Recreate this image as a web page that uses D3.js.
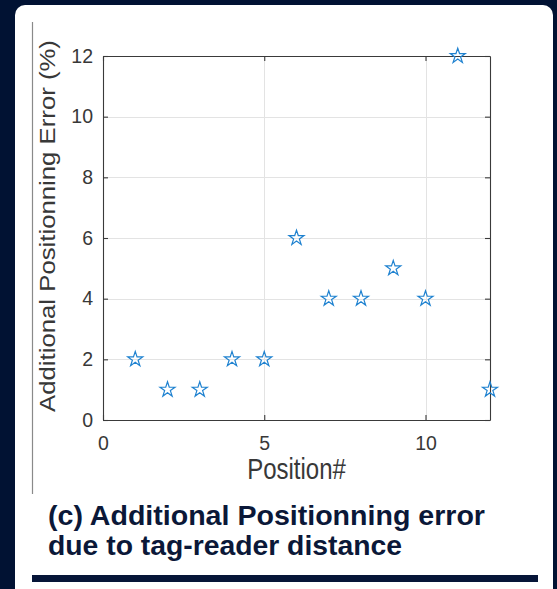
<!DOCTYPE html>
<html>
<head>
<meta charset="utf-8">
<script src="https://cdn.jsdelivr.net/npm/d3@7"></script>
<style>
  html, body { margin: 0; padding: 0; background: #011233; }
  svg { display: block; }
  text { font-family: "Liberation Sans", Arial, sans-serif; }
</style>
</head>
<body>
<svg id="chart" width="557" height="589"></svg>
<script>
// data
var positions = [1, 2, 3, 4, 5, 6, 7, 8, 9, 10, 11, 12];
var errors    = [2, 1, 1, 2, 2, 6, 4, 4, 5, 4, 12, 1];
var xTicks = [0, 5, 10];
var yTicks = [0, 2, 4, 6, 8, 10, 12];

var svg = d3.select('#chart');

// white slide panel
svg.append('rect')
  .attr('x', 15).attr('y', 5)
  .attr('width', 538).attr('height', 600)
  .attr('rx', 10)
  .style('fill', '#ffffff');

// thin vertical rule on the left
svg.append('line')
  .attr('x1', 32.5).attr('x2', 32.5)
  .attr('y1', 22).attr('y2', 494)
  .style('stroke', '#8a8a8a')
  .style('stroke-width', 1.2);

var pLeft = 103, pRight = 490, pTop = 56, pBottom = 420;

var x = d3.scaleLinear().domain([0, 12]).range([pLeft, pRight]);
var y = d3.scaleLinear().domain([0, 12]).range([pBottom, pTop]);

var plot = svg.append('g');

// grid
plot.selectAll('line.gx')
  .data(xTicks)
  .enter()
  .append('line')
  .classed('gx', true)
  .attr('x1', d => Math.round(x(d)) + 0.5)
  .attr('x2', d => Math.round(x(d)) + 0.5)
  .attr('y1', pTop).attr('y2', pBottom)
  .style('stroke', '#e3e3e3');

plot.selectAll('line.gy')
  .data(yTicks)
  .enter()
  .append('line')
  .classed('gy', true)
  .attr('x1', pLeft).attr('x2', pRight)
  .attr('y1', d => Math.round(y(d)) + 0.5)
  .attr('y2', d => Math.round(y(d)) + 0.5)
  .style('stroke', '#e3e3e3');

// axes, ticks pointing inward like matlab
var fmt = d3.format('d');
plot.append('g')
  .attr('transform', 'translate(0,' + pBottom + ')')
  .call(d3.axisBottom(x).tickValues(xTicks).tickFormat(fmt).tickSizeInner(-5).tickSizeOuter(0).tickPadding(16));
plot.append('g')
  .attr('transform', 'translate(0,' + pTop + ')')
  .call(d3.axisTop(x).tickValues(xTicks).tickFormat('').tickSizeInner(-5).tickSizeOuter(0));
plot.append('g')
  .attr('transform', 'translate(' + pLeft + ',0)')
  .call(d3.axisLeft(y).tickValues(yTicks).tickFormat(fmt).tickSizeInner(-5).tickSizeOuter(0).tickPadding(10));
plot.append('g')
  .attr('transform', 'translate(' + pRight + ',0)')
  .call(d3.axisRight(y).tickValues(yTicks).tickFormat('').tickSizeInner(-5).tickSizeOuter(0));

plot.selectAll('.domain, .tick line')
  .style('stroke', '#3a3a3a')
  .style('stroke-width', 1.1);

plot.selectAll('.tick text')
  .style('font-size', '19.5px')
  .style('fill', '#383838')
  .style('font-family', '"Liberation Sans", Arial, sans-serif');

// axis labels (the picture is a bit stretched vertically)
svg.append('text')
  .attr('transform', 'translate(' + x(6) + ',479) scale(1,1.2)')
  .attr('text-anchor', 'middle')
  .style('font-size', '24px')
  .style('fill', '#383838')
  .text('Position#');

svg.append('text')
  .attr('transform', 'translate(55,226) scale(1,1.17) rotate(-90)')
  .attr('text-anchor', 'middle')
  .style('font-size', '22px')
  .style('fill', '#383838')
  .text('Additional Positionning Error (%)');

// star markers
var star = d3.symbol().type(d3.symbolStar).size(70);
plot.selectAll('path.pt')
  .data(positions)
  .enter()
  .append('path')
  .classed('pt', true)
  .attr('transform', (d, i) => 'translate(' + x(d) + ',' + y(errors[i]) + ')')
  .attr('d', star)
  .style('fill', 'none')
  .style('stroke', '#1f82d0')
  .style('stroke-width', 1.2);

// caption
var caption = svg.append('g')
  .style('fill', '#0b1838')
  .style('font-weight', 'bold')
  .style('font-size', '27px');

caption.append('text')
  .attr('x', 48).attr('y', 525)
  .attr('textLength', 437)
  .attr('lengthAdjust', 'spacingAndGlyphs')
  .text('(c) Additional Positionning error');

caption.append('text')
  .attr('x', 48).attr('y', 555)
  .attr('textLength', 354)
  .attr('lengthAdjust', 'spacingAndGlyphs')
  .text('due to tag-reader distance');

// bottom bar
svg.append('rect')
  .attr('x', 32).attr('y', 575)
  .attr('width', 506).attr('height', 7)
  .style('fill', '#061538');
</script>
</body>
</html>
